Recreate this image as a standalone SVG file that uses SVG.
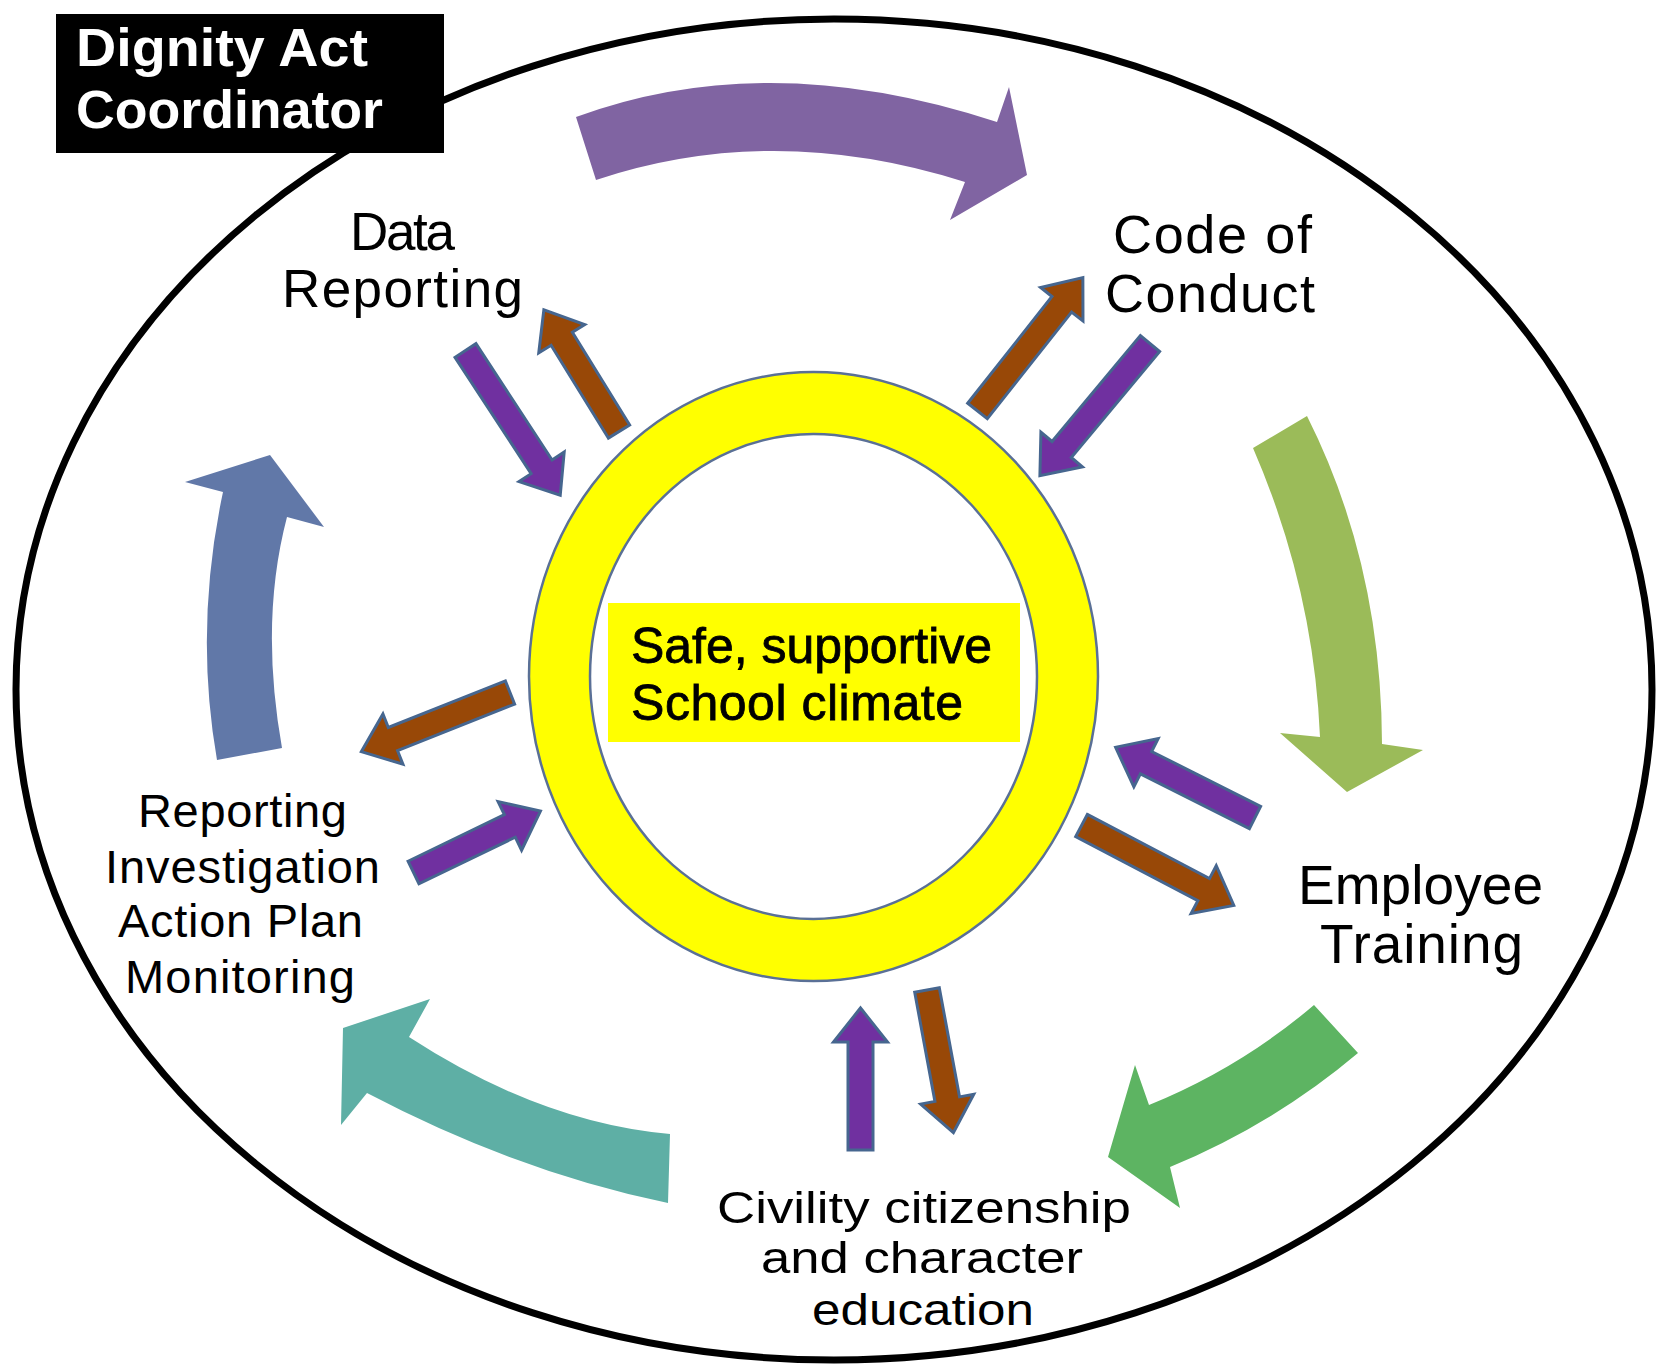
<svg xmlns="http://www.w3.org/2000/svg" width="1658" height="1369" viewBox="0 0 1658 1369">
<style>
.lbl{font-family:"Liberation Sans",Arial,sans-serif;fill:#000;}
.sa{stroke:#46668f;stroke-width:3;stroke-linejoin:miter;}
.pu{fill:#7030a0;}
.br{fill:#984807;}
</style>
<rect width="1658" height="1369" fill="#fff"/>
<g id="frame">
<ellipse cx="834" cy="689.5" rx="818" ry="670.5" fill="none" stroke="#000" stroke-width="7"/>
</g>
<g id="connectors">
<path id="cycle-purple" fill="#8064a2" d="M576,117 Q767.5,46.5 997,122 L1009,87 L1027,175 L950,220 L965,182 Q773.5,121 596,180 Z"/>
<path id="cycle-olive" fill="#9bbb59" d="M1253,448 L1307,416 Q1381.5,564 1382,744 L1423,750 L1347,792 L1280,733 L1320,737 Q1313.5,587.5 1253,448 Z"/>
<path id="cycle-green" fill="#5db462" d="M1314,1005 L1358,1053 Q1274,1124 1170,1167 L1180,1208 L1108,1157 L1135,1065 L1149,1105 Q1240,1068 1314,1005 Z"/>
<path id="cycle-teal" fill="#5eafa5" d="M670,1134 L668,1203 Q517.5,1172 367,1093 L341,1125 L343,1028 L430,999 L409,1037 Q540.5,1122.5 670,1134 Z"/>
<path id="cycle-blue" fill="#6178a8" d="M217,760 L282,748 Q259.5,621.5 287,517 L324,527 L270,455 L185,482 L223,492 Q194,628 217,760 Z"/>
<path class="sa pu" transform="translate(465.5,350.5) rotate(56.8)" d="M0,-12.5 H139 V-27 L173,0 L139,27 V12.5 H0 Z"/>
<path class="sa br" transform="translate(619,431.5) rotate(-121.7)" d="M0,-12.5 H109 V-27 L143,0 L109,27 V12.5 H0 Z"/>
<path class="sa br" transform="translate(977.5,411) rotate(-51.7)" d="M0,-12.5 H136 V-27 L170,0 L136,27 V12.5 H0 Z"/>
<path class="sa pu" transform="translate(1150,343.5) rotate(129.8)" d="M0,-12.5 H138 V-27 L172,0 L138,27 V12.5 H0 Z"/>
<path class="sa pu" transform="translate(1255,817.5) rotate(-153.3)" d="M0,-12.5 H122 V-27 L156,0 L122,27 V12.5 H0 Z"/>
<path class="sa br" transform="translate(1081.5,825.5) rotate(27.7)" d="M0,-12.5 H138 V-27 L172,0 L138,27 V12.5 H0 Z"/>
<path class="sa pu" transform="translate(860.5,1150) rotate(-90)" d="M0,-12.5 H108 V-27 L142,0 L108,27 V12.5 H0 Z"/>
<path class="sa br" transform="translate(927,990) rotate(79.5)" d="M0,-12.5 H111 V-27 L145,0 L111,27 V12.5 H0 Z"/>
<path class="sa br" transform="translate(510,692.5) rotate(158.3)" d="M0,-12.5 H126 V-27 L160,0 L126,27 V12.5 H0 Z"/>
<path class="sa pu" transform="translate(413.5,872.5) rotate(-25.8)" d="M0,-12.5 H107 V-27 L141,0 L107,27 V12.5 H0 Z"/>
</g>
<g id="center">
<ellipse cx="813.5" cy="676.5" rx="284.5" ry="304.5" fill="#ffff00" stroke="#5a7096" stroke-width="2.5"/>
<ellipse cx="813.5" cy="676.5" rx="223.5" ry="242.5" fill="#fff" stroke="#5a7096" stroke-width="2.5"/>
<rect x="608" y="603" width="412" height="139" fill="#ffff00"/>
<text class="lbl" font-size="50" stroke="#000" stroke-width="0.8"><tspan x="631" y="663" textLength="361">Safe, supportive</tspan><tspan x="631" y="720" textLength="332">School climate</tspan></text>
</g>
<g id="dignity-act-coordinator">
<rect x="56" y="14" width="388" height="139" fill="#000"/>
<text class="lbl" font-size="53" font-weight="bold" style="fill:#fff"><tspan x="76" y="66" textLength="292" lengthAdjust="spacingAndGlyphs">Dignity Act</tspan><tspan x="76" y="128" textLength="307" lengthAdjust="spacingAndGlyphs">Coordinator</tspan></text>
</g>
<g id="data-reporting">
<text class="lbl" font-size="53"><tspan x="350" y="250" textLength="105">Data</tspan><tspan x="282" y="307" textLength="241">Reporting</tspan></text>
</g>
<g id="code-of-conduct">
<text class="lbl" font-size="54"><tspan x="1113" y="253" textLength="199">Code of</tspan><tspan x="1105" y="312" textLength="210">Conduct</tspan></text>
</g>
<g id="employee-training">
<text class="lbl" font-size="55"><tspan x="1298" y="904" textLength="245">Employee</tspan><tspan x="1320" y="963" textLength="203">Training</tspan></text>
</g>
<g id="civility-education">
<text class="lbl" font-size="45"><tspan x="717" y="1223" textLength="414" lengthAdjust="spacingAndGlyphs">Civility citizenship</tspan><tspan x="761" y="1273" textLength="322" lengthAdjust="spacingAndGlyphs">and character</tspan><tspan x="812" y="1325" textLength="222" lengthAdjust="spacingAndGlyphs">education</tspan></text>
</g>
<g id="reporting-investigation">
<text class="lbl" font-size="47"><tspan x="138" y="827" textLength="209">Reporting</tspan><tspan x="105" y="883" textLength="275">Investigation</tspan><tspan x="118" y="937" textLength="245">Action Plan</tspan><tspan x="125" y="993" textLength="230">Monitoring</tspan></text>
</g>
</svg>
